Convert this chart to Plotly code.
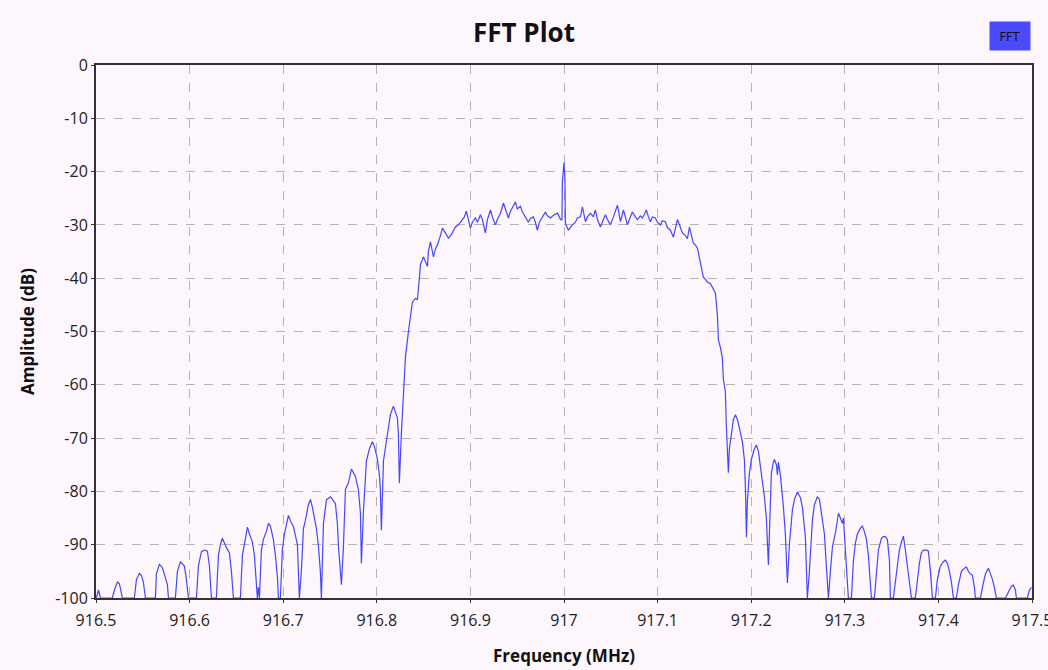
import plotly.graph_objects as go

# Frequency (MHz) and amplitude (dB)
freq_mhz = [
    916.5004, 916.5026, 916.5047,
    916.5175, 916.5197, 916.5229, 916.5250, 916.5271, 916.5282, 916.5346,
    916.5410, 916.5432, 916.5464, 916.5485, 916.5506, 916.5528, 916.5581,
    916.5635, 916.5645, 916.5677, 916.5709, 916.5741, 916.5763, 916.5774, 916.5816,
    916.5848, 916.5870, 916.5902, 916.5923, 916.5944, 916.5966, 916.5987, 916.6030,
    916.6073, 916.6094, 916.6126, 916.6158, 916.6190, 916.6212, 916.6233, 916.6265,
    916.6286, 916.6308, 916.6329, 916.6350, 916.6372, 916.6393, 916.6425, 916.6447, 916.6468, 916.6511,
    916.6543, 916.6564, 916.6585, 916.6618, 916.6639, 916.6671, 916.6692, 916.6714, 916.6724, 916.6735,
    916.6746, 916.6767, 916.6788, 916.6821, 916.6842, 916.6863, 916.6895, 916.6917, 916.6938, 916.6949,
    916.6970, 916.6991, 916.7013, 916.7056, 916.7077, 916.7109, 916.7130, 916.7152, 916.7173,
    916.7194, 916.7216, 916.7237, 916.7269, 916.7291, 916.7312, 916.7333, 916.7355, 916.7376, 916.7397, 916.7408,
    916.7430, 916.7462, 916.7483, 916.7504, 916.7526, 916.7558, 916.7579, 916.7590, 916.7611, 916.7622,
    916.7643, 916.7665, 916.7697, 916.7729, 916.7750, 916.7771, 916.7803, 916.7825, 916.7835,
    916.7857, 916.7889, 916.7921, 916.7953, 916.7974, 916.8006, 916.8028, 916.8038, 916.8049,
    916.8071, 916.8103, 916.8124, 916.8145, 916.8177, 916.8199, 916.8220, 916.8231, 916.8241,
    916.8263, 916.8284, 916.8306, 916.8338, 916.8359, 916.8380, 916.8412, 916.8434, 916.8455, 916.8466,
    916.8498, 916.8519, 916.8541, 916.8551, 916.8573, 916.8594, 916.8605, 916.8626, 916.8647, 916.8680,
    916.8701, 916.8733, 916.8765, 916.8797, 916.8840, 916.8872, 916.8915, 916.8936, 916.8957, 916.8979,
    916.9000, 916.9021, 916.9053, 916.9075, 916.9107, 916.9128, 916.9160, 916.9182, 916.9214, 916.9235,
    916.9267, 916.9288, 916.9321, 916.9353, 916.9374, 916.9406, 916.9427, 916.9449, 916.9481, 916.9502,
    916.9534, 916.9556, 916.9588, 916.9620, 916.9641, 916.9673, 916.9694, 916.9716, 916.9737, 916.9769,
    916.9801, 916.9823, 916.9855, 916.9887, 916.9930, 916.9951, 916.9962, 916.9978, 916.9983,
    917.0000, 917.0010, 917.0015,
    917.0047, 917.0068, 917.0090, 917.0122, 917.0143, 917.0175, 917.0197, 917.0229, 917.0250, 917.0282,
    917.0314, 917.0335, 917.0357, 917.0389, 917.0410, 917.0442, 917.0464, 917.0496, 917.0528, 917.0549,
    917.0571, 917.0603, 917.0635, 917.0656, 917.0677, 917.0709, 917.0731, 917.0763, 917.0784, 917.0816,
    917.0838, 917.0859, 917.0880, 917.0902, 917.0923, 917.0944, 917.0976, 917.0998, 917.1030, 917.1051,
    917.1083, 917.1105, 917.1137, 917.1169, 917.1190, 917.1212, 917.1244, 917.1265, 917.1297, 917.1318,
    917.1340, 917.1361, 917.1382, 917.1404, 917.1425, 917.1457, 917.1489, 917.1511, 917.1532, 917.1564,
    917.1585, 917.1618, 917.1639, 917.1650, 917.1671, 917.1692, 917.1703, 917.1724,
    917.1735, 917.1756, 917.1767, 917.1788, 917.1810, 917.1831, 917.1853, 917.1885, 917.1906, 917.1927, 917.1938, 917.1949,
    917.1959, 917.1981, 917.2002, 917.2034, 917.2056, 917.2077, 917.2098, 917.2120, 917.2141, 917.2162, 917.2184,
    917.2205, 917.2216, 917.2237, 917.2248, 917.2269, 917.2280, 917.2291, 917.2312, 917.2344, 917.2365, 917.2387,
    917.2408, 917.2440, 917.2462, 917.2494, 917.2515, 917.2526, 917.2547, 917.2579, 917.2600,
    917.2622, 917.2654, 917.2675, 917.2707, 917.2729, 917.2761, 917.2782, 917.2803, 917.2825,
    917.2846, 917.2868, 917.2900, 917.2932, 917.2953, 917.2974, 917.2985, 917.3006, 917.3028, 917.3038,
    917.3071, 917.3092, 917.3113, 917.3135, 917.3167, 917.3188, 917.3209, 917.3231, 917.3252, 917.3274, 917.3284,
    917.3316, 917.3338, 917.3359, 917.3391, 917.3412, 917.3434, 917.3455, 917.3477, 917.3487,
    917.3519, 917.3551, 917.3583, 917.3605, 917.3626, 917.3647, 917.3669, 917.3690, 917.3712,
    917.3754, 917.3776, 917.3797, 917.3818, 917.3840, 917.3872, 917.3893, 917.3915, 917.3936,
    917.3968, 917.3989, 917.4021, 917.4053, 917.4075, 917.4096, 917.4118, 917.4139, 917.4160,
    917.4192, 917.4214, 917.4246, 917.4278, 917.4299, 917.4321, 917.4342, 917.4363, 917.4385, 917.4395,
    917.4449, 917.4470, 917.4502, 917.4534, 917.4556, 917.4577, 917.4598, 917.4620,
    917.4716, 917.4748, 917.4780, 917.4801, 917.4823, 917.4833,
    917.4951, 917.4972, 917.4994,
]

amplitude_db = [
    -100, -98.5, -100,
    -100, -98.5, -97, -97.3, -99, -100, -100,
    -100, -96.5, -95.4, -95.8, -97, -100, -100,
    -100, -95.5, -93.7, -94.3, -96, -97.5, -100, -100,
    -100, -95, -93.2, -93.6, -94, -96.5, -100, -100,
    -100, -94, -91.3, -91, -91.2, -94, -100, -100,
    -100, -92, -90, -88.8, -89.8, -90.5, -91.5, -95, -100, -100,
    -100, -92, -90, -86.7, -88, -89.5, -92, -97, -100, -98,
    -100, -91, -89, -87.5, -86, -86.5, -89, -92, -96, -100,
    -100, -91, -88, -84.5, -85.5, -86.6, -88.5, -90, -100,
    -95, -87, -85.5, -82.5, -81.5, -83, -84.8, -87, -90.2, -95, -100,
    -86, -81.6, -81.2, -81, -81.5, -82.3, -86, -90.2, -95, -97.5,
    -90.6, -79.6, -78.4, -75.8, -76.5, -77.2, -79.6, -84, -93.5,
    -83.8, -74.3, -72, -70.7, -71.5, -73.9, -77, -79.6, -87.3,
    -74.3, -70.3, -67.5, -65.6, -64, -65, -66.2, -69.4, -78.4,
    -69, -62.5, -54.8, -50, -47, -44.5, -43.8, -44, -40, -37.5,
    -36, -37, -37.8, -35, -33.2, -35, -36, -34.5, -33.8, -32,
    -30.6, -31.5, -32.5, -31.8, -30.4, -30, -29, -28.5, -27.4, -29,
    -30.6, -29.5, -28.7, -29.5, -28.1, -29, -31.5, -29, -27.2, -28.5,
    -30, -29, -27.8, -25.9, -27, -28.7, -27.5, -26.8, -25.7, -27,
    -26.5, -27.6, -28.5, -29.5, -28.8, -28.5, -29.5, -31, -29.5, -28.5,
    -27.6, -28.3, -28.7, -28.2, -27.8, -28.5, -29, -29, -21.8,
    -18.3, -21.5, -29.7,
    -31, -30.5, -30, -29.5, -28.7, -28.5, -26.6, -29.4, -28.5, -27.8,
    -28.5, -27.2, -29, -30.4, -29.5, -28.1, -29, -30, -28.5, -27.5,
    -26.3, -29.4, -27.2, -28.5, -30, -28.5, -27.6, -28.5, -29, -28.3,
    -28.7, -28, -27.2, -28.5, -29.4, -28.5, -28.7, -29.5, -30, -29.2,
    -29.4, -30.5, -31, -32.3, -30.5, -29, -30.5, -31.5, -32, -32.6,
    -30.4, -32, -33.4, -33.8, -34.3, -37.1, -39.8, -40.2, -40.7, -41,
    -41.6, -42.8, -47, -51.6, -53, -55, -59, -61.3,
    -67.9, -76.5, -72, -69, -66.5, -65.6, -66.5, -69, -70.7, -74, -79.2, -88.6,
    -82, -76.5, -74, -72, -71.3, -72.5, -75, -78.4, -81, -85, -93.8,
    -82, -76.5, -74.5, -74, -75, -76.9, -74.5, -77, -82.9, -88, -97.2,
    -90, -83.5, -81.5, -80.1, -80.8, -81.2, -83, -88.6, -100,
    -95, -85.4, -82.5, -81, -81.5, -85.4, -88, -94, -100,
    -95, -90.4, -87.8, -84.1, -85, -86, -85, -90.4, -96, -100,
    -100, -93, -89.7, -88, -86.9, -86.5, -87.5, -89, -92, -97, -100,
    -100, -95, -91, -88.8, -88.5, -88.5, -89, -93, -100,
    -100, -95, -91, -89.5, -88.4, -91, -94, -97, -100,
    -100, -96, -93.5, -91.5, -91, -91, -91.2, -95, -100,
    -100, -96.5, -94, -93.2, -92.9, -93.5, -95, -97, -100,
    -100, -97.5, -95, -94.4, -94.2, -95, -95.5, -95.7, -98, -100,
    -100, -98, -95.5, -94.4, -95.5, -96.5, -98, -100,
    -100, -99, -97.8, -97.6, -98.5, -100,
    -100, -98.5, -98,
]

x_tick_vals = [916.5, 916.6, 916.7, 916.8, 916.9, 917.0, 917.1, 917.2, 917.3, 917.4, 917.5]
x_tick_text = ["916.5", "916.6", "916.7", "916.8", "916.9", "917", "917.1", "917.2", "917.3", "917.4", "917.5"]
y_tick_vals = [0, -10, -20, -30, -40, -50, -60, -70, -80, -90, -100]
y_tick_text = ["0", "-10", "-20", "-30", "-40", "-50", "-60", "-70", "-80", "-90", "-100"]

BG = "#fdf6fc"
LINE_BLUE = "#4646ff"
AXIS_DARK = "#333333"
GRID = "#b4b4b4"
FONT = "Open Sans"

fig = go.Figure()
fig.add_trace(go.Scatter(
    x=freq_mhz, y=amplitude_db, mode="lines", name="FFT",
    line=dict(color=LINE_BLUE, width=1.2), showlegend=False,
))

fig.update_layout(
    width=1048, height=670,
    paper_bgcolor=BG, plot_bgcolor=BG,
    margin=dict(l=96, r=16, t=65, b=72, autoexpand=False),
    font=dict(family=FONT, color="#222222", size=16),
    title=dict(text="<b>FFT Plot</b>", x=0.5, xanchor="center", y=0.951, yanchor="middle",
               font=dict(family=FONT, size=26, color="#111111")),
    xaxis=dict(
        range=[916.5, 917.5], tickvals=x_tick_vals, ticktext=x_tick_text,
        showgrid=True, gridcolor=GRID, griddash="dash", gridwidth=1,
        showline=True, linecolor=AXIS_DARK, linewidth=2, mirror=True,
        ticks="outside", ticklen=3, tickcolor=AXIS_DARK,
        ticklabeloverflow="allow", ticklabelstandoff=4, automargin=False,
        tickfont=dict(family=FONT, size=16, color="#222222"),
        title=dict(text="<b>Frequency (MHz)</b>", font=dict(family=FONT, size=17, color="#111111"),
                   standoff=20),
        zeroline=False,
    ),
    yaxis=dict(
        range=[-100, 0], tickvals=y_tick_vals, ticktext=y_tick_text,
        showgrid=True, gridcolor=GRID, griddash="dash", gridwidth=1,
        showline=True, linecolor=AXIS_DARK, linewidth=2, mirror=True,
        ticks="outside", ticklen=3, tickcolor=AXIS_DARK, automargin=False,
        tickfont=dict(family=FONT, size=16, color="#222222"),
        title=dict(text="<b>Amplitude (dB)</b>", font=dict(family=FONT, size=17, color="#111111"),
                   standoff=16),
        zeroline=False,
    ),
    annotations=[dict(
        text="FFT", xref="paper", yref="paper", x=1.0, y=1.0, xanchor="right", yanchor="bottom",
        yshift=14, xshift=-1, showarrow=False, bgcolor="#4a4aff", borderpad=4,
        font=dict(size=13, color="#111111", family="DejaVu Sans Condensed"),
        width=32, height=20,
    )],
)

fig.write_html("out.html")
